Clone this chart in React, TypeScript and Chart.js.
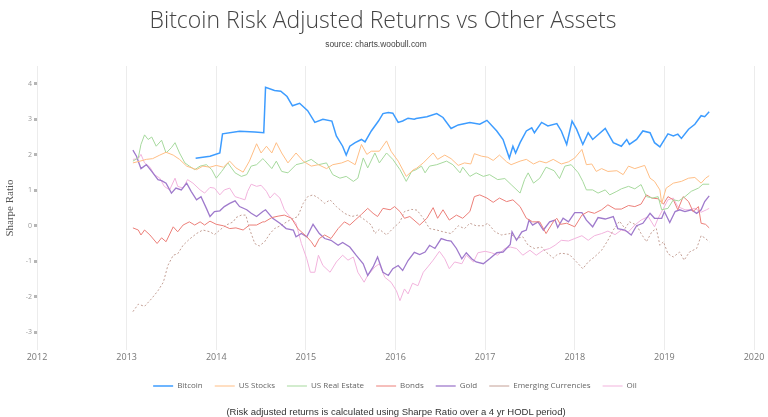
import { useEffect, useRef } from 'react';
import { Chart, registerables } from 'chart.js';

Chart.register(...registerables);

// [decimal year, Sharpe ratio]
const bitcoin: [number, number][] = [
  [2013.77, 1.90], [2013.93, 1.96], [2014.04, 2.05], [2014.07, 2.59], [2014.26, 2.66], [2014.43, 2.64], [2014.53, 2.62],
  [2014.55, 3.90], [2014.65, 3.81], [2014.72, 3.79], [2014.79, 3.64], [2014.85, 3.38], [2014.93, 3.45], [2015.02, 3.24],
  [2015.10, 2.91], [2015.19, 3.00], [2015.29, 2.95], [2015.34, 2.53], [2015.41, 2.24], [2015.45, 1.99], [2015.49, 2.24],
  [2015.55, 2.34], [2015.62, 2.43], [2015.66, 2.36], [2015.73, 2.67], [2015.81, 2.95], [2015.86, 3.16], [2015.92, 3.19],
  [2015.97, 3.17], [2016.03, 2.91], [2016.08, 2.95], [2016.14, 3.03], [2016.21, 3.00], [2016.23, 3.02], [2016.35, 3.07],
  [2016.46, 3.16], [2016.53, 3.05], [2016.62, 2.74], [2016.70, 2.84], [2016.83, 2.91], [2016.94, 2.86], [2017.02, 2.97],
  [2017.13, 2.67], [2017.20, 2.43], [2017.27, 1.91], [2017.31, 2.24], [2017.34, 2.05], [2017.39, 2.34], [2017.46, 2.67],
  [2017.52, 2.76], [2017.55, 2.62], [2017.63, 2.91], [2017.70, 2.81], [2017.80, 2.88], [2017.85, 2.67], [2017.91, 2.29],
  [2017.97, 2.95], [2018.02, 2.72], [2018.09, 2.29], [2018.15, 2.62], [2018.20, 2.43], [2018.34, 2.74], [2018.43, 2.34],
  [2018.52, 2.24], [2018.58, 2.43], [2018.61, 2.29], [2018.69, 2.43], [2018.76, 2.67], [2018.84, 2.62], [2018.89, 2.34],
  [2018.95, 2.22], [2019.04, 2.59], [2019.10, 2.53], [2019.15, 2.58], [2019.19, 2.46], [2019.27, 2.72], [2019.34, 2.86],
  [2019.41, 3.10], [2019.45, 3.07], [2019.50, 3.21],
];

const usStocks: [number, number][] = [
  [2013.07, 1.77], [2013.15, 1.82], [2013.22, 1.87], [2013.29, 1.89], [2013.37, 1.99], [2013.44, 2.07], [2013.52, 1.99],
  [2013.59, 1.87], [2013.67, 1.68], [2013.78, 1.58], [2013.85, 1.68], [2013.93, 1.65], [2014.00, 1.70], [2014.08, 1.65],
  [2014.15, 1.82], [2014.22, 1.63], [2014.30, 1.51], [2014.37, 1.82], [2014.45, 2.31], [2014.50, 2.05], [2014.56, 2.24],
  [2014.62, 2.05], [2014.67, 2.34], [2014.73, 2.05], [2014.80, 1.77], [2014.89, 2.05], [2014.97, 1.82], [2015.06, 1.68],
  [2015.14, 1.72], [2015.23, 1.61], [2015.30, 1.72], [2015.40, 1.77], [2015.47, 1.84], [2015.55, 1.72], [2015.62, 2.29],
  [2015.68, 2.01], [2015.73, 2.10], [2015.82, 2.10], [2015.90, 2.39], [2015.95, 2.10], [2016.03, 1.82], [2016.12, 1.39],
  [2016.20, 1.58], [2016.23, 1.61], [2016.31, 1.77], [2016.42, 2.05], [2016.47, 1.87], [2016.55, 1.99], [2016.62, 1.89],
  [2016.70, 1.70], [2016.77, 1.77], [2016.84, 1.74], [2016.88, 2.03], [2016.96, 1.96], [2017.03, 1.93], [2017.09, 1.84],
  [2017.16, 1.99], [2017.24, 1.80], [2017.29, 1.72], [2017.39, 1.82], [2017.46, 1.87], [2017.54, 1.74], [2017.61, 1.82],
  [2017.68, 1.77], [2017.76, 1.87], [2017.85, 1.74], [2017.93, 1.80], [2018.00, 1.91], [2018.08, 2.15], [2018.13, 1.72],
  [2018.19, 1.74], [2018.24, 1.53], [2018.30, 1.61], [2018.37, 1.53], [2018.47, 1.55], [2018.54, 1.44], [2018.60, 1.68],
  [2018.67, 1.61], [2018.78, 1.70], [2018.84, 1.34], [2018.89, 1.25], [2018.95, 1.01], [2018.97, 0.63], [2019.02, 1.06],
  [2019.10, 1.20], [2019.19, 1.25], [2019.27, 1.34], [2019.34, 1.36], [2019.41, 1.20], [2019.46, 1.34], [2019.50, 1.41],
];

const usRealEstate: [number, number][] = [
  [2013.07, 1.82], [2013.13, 1.91], [2013.16, 2.29], [2013.20, 2.56], [2013.24, 2.43], [2013.28, 2.50], [2013.33, 2.24],
  [2013.39, 2.41], [2013.44, 2.05], [2013.50, 2.20], [2013.54, 2.34], [2013.59, 2.05], [2013.65, 1.77], [2013.70, 1.68],
  [2013.76, 1.58], [2013.82, 1.68], [2013.89, 1.72], [2013.95, 1.58], [2014.00, 1.34], [2014.06, 1.53], [2014.13, 1.77],
  [2014.21, 1.49], [2014.28, 1.39], [2014.34, 1.44], [2014.39, 1.68], [2014.45, 1.72], [2014.52, 1.89], [2014.54, 1.84],
  [2014.62, 1.61], [2014.67, 1.82], [2014.73, 1.53], [2014.80, 1.49], [2014.89, 1.72], [2014.97, 1.77], [2015.06, 1.87],
  [2015.14, 1.72], [2015.23, 1.77], [2015.30, 1.44], [2015.38, 1.34], [2015.45, 1.39], [2015.53, 1.25], [2015.58, 1.34],
  [2015.64, 1.91], [2015.69, 1.63], [2015.77, 2.05], [2015.82, 1.77], [2015.90, 2.05], [2015.97, 1.87], [2016.05, 1.58],
  [2016.12, 1.25], [2016.18, 1.53], [2016.23, 1.58], [2016.29, 1.68], [2016.33, 1.49], [2016.38, 1.68], [2016.46, 1.72],
  [2016.57, 1.82], [2016.64, 1.72], [2016.72, 1.49], [2016.75, 1.65], [2016.83, 1.39], [2016.90, 1.49], [2016.98, 1.39],
  [2017.05, 1.44], [2017.14, 1.30], [2017.22, 1.33], [2017.29, 1.16], [2017.39, 0.92], [2017.44, 1.30], [2017.48, 1.49],
  [2017.54, 1.20], [2017.61, 1.34], [2017.68, 1.65], [2017.77, 1.55], [2017.83, 1.33], [2017.89, 1.68], [2017.96, 1.72],
  [2018.04, 1.49], [2018.09, 1.25], [2018.13, 1.01], [2018.20, 1.01], [2018.26, 0.92], [2018.34, 1.01], [2018.39, 0.87],
  [2018.47, 0.97], [2018.52, 1.04], [2018.60, 1.11], [2018.67, 1.04], [2018.74, 1.16], [2018.80, 0.82], [2018.87, 0.78],
  [2018.93, 0.82], [2018.97, 0.45], [2019.04, 0.49], [2019.10, 0.73], [2019.16, 0.70], [2019.23, 0.82], [2019.30, 0.97],
  [2019.38, 1.06], [2019.43, 1.17], [2019.50, 1.17],
];

const bonds: [number, number][] = [
  [2013.07, -0.06], [2013.13, -0.12], [2013.16, -0.26], [2013.20, -0.12], [2013.26, -0.26], [2013.34, -0.50], [2013.39, -0.34],
  [2013.44, -0.45], [2013.52, -0.03], [2013.57, -0.17], [2013.63, 0.02], [2013.70, 0.11], [2013.76, 0.02], [2013.82, 0.11],
  [2013.87, 0.02], [2013.93, 0.13], [2014.00, 0.04], [2014.08, 0.00], [2014.15, -0.08], [2014.22, -0.06], [2014.30, -0.12],
  [2014.37, 0.02], [2014.45, 0.02], [2014.52, 0.11], [2014.54, 0.11], [2014.62, 0.23], [2014.69, 0.27], [2014.76, 0.30],
  [2014.84, 0.21], [2014.91, -0.08], [2015.01, -0.31], [2015.06, -0.45], [2015.10, -0.60], [2015.15, -0.36], [2015.21, -0.26],
  [2015.28, -0.36], [2015.36, -0.08], [2015.43, 0.11], [2015.49, 0.02], [2015.55, 0.16], [2015.62, 0.32], [2015.69, 0.49],
  [2015.75, 0.35], [2015.80, 0.26], [2015.86, 0.49], [2015.94, 0.45], [2015.99, 0.54], [2016.05, 0.40], [2016.10, 0.21],
  [2016.16, 0.26], [2016.27, 0.02], [2016.35, 0.21], [2016.42, 0.51], [2016.47, 0.21], [2016.53, 0.45], [2016.60, 0.16],
  [2016.68, 0.30], [2016.75, 0.21], [2016.83, 0.40], [2016.88, 0.82], [2016.94, 0.87], [2017.02, 0.78], [2017.09, 0.66],
  [2017.16, 0.78], [2017.24, 0.68], [2017.31, 0.73], [2017.39, 0.54], [2017.46, 0.21], [2017.53, 0.11], [2017.61, 0.11],
  [2017.68, -0.22], [2017.76, 0.11], [2017.80, 0.21], [2017.84, 0.04], [2017.91, 0.07], [2018.00, -0.03], [2018.08, 0.30],
  [2018.15, 0.40], [2018.22, 0.35], [2018.30, 0.45], [2018.37, 0.59], [2018.45, 0.47], [2018.52, 0.47], [2018.60, 0.57],
  [2018.67, 0.54], [2018.74, 0.61], [2018.80, 0.87], [2018.86, 0.78], [2018.93, 0.76], [2018.99, 0.61], [2019.04, 0.82],
  [2019.10, 0.73], [2019.15, 0.45], [2019.21, 0.82], [2019.27, 0.68], [2019.32, 0.40], [2019.38, 0.54], [2019.41, 0.07],
  [2019.46, 0.04], [2019.50, -0.06],
];

const gold: [number, number][] = [
  [2013.07, 2.13], [2013.11, 1.96], [2013.16, 1.61], [2013.22, 1.72], [2013.28, 1.53], [2013.35, 1.30], [2013.39, 1.27],
  [2013.44, 1.20], [2013.50, 0.92], [2013.55, 1.06], [2013.61, 1.01], [2013.67, 1.20], [2013.72, 0.97], [2013.78, 0.73],
  [2013.83, 0.82], [2013.89, 0.49], [2013.93, 0.26], [2013.98, 0.40], [2014.04, 0.42], [2014.09, 0.54], [2014.15, 0.63],
  [2014.21, 0.70], [2014.26, 0.54], [2014.34, 0.45], [2014.39, 0.35], [2014.45, 0.26], [2014.52, 0.40], [2014.55, 0.45],
  [2014.63, 0.21], [2014.71, 0.07], [2014.78, -0.08], [2014.86, -0.12], [2014.89, -0.31], [2014.95, -0.22], [2015.01, -0.31],
  [2015.08, 0.04], [2015.15, -0.22], [2015.21, -0.36], [2015.28, -0.41], [2015.36, -0.55], [2015.41, -0.47], [2015.49, -0.60],
  [2015.56, -0.83], [2015.64, -1.07], [2015.69, -1.40], [2015.75, -1.16], [2015.80, -0.88], [2015.86, -1.31], [2015.92, -1.40],
  [2015.97, -1.21], [2016.03, -1.12], [2016.08, -1.26], [2016.14, -0.98], [2016.21, -0.75], [2016.27, -0.81], [2016.33, -0.74],
  [2016.38, -0.55], [2016.44, -0.64], [2016.51, -0.36], [2016.57, -0.41], [2016.62, -0.43], [2016.68, -0.64], [2016.74, -0.93],
  [2016.79, -0.76], [2016.85, -0.93], [2016.90, -1.02], [2016.98, -1.07], [2017.05, -0.93], [2017.13, -0.76], [2017.20, -0.74],
  [2017.28, -0.53], [2017.30, -0.17], [2017.35, -0.41], [2017.41, -0.17], [2017.46, -0.12], [2017.49, 0.16], [2017.53, 0.02],
  [2017.59, 0.11], [2017.65, -0.12], [2017.72, 0.11], [2017.78, 0.16], [2017.81, -0.05], [2017.87, 0.21], [2017.93, 0.11],
  [2018.00, 0.37], [2018.08, 0.37], [2018.13, 0.16], [2018.20, -0.03], [2018.26, 0.23], [2018.34, 0.19], [2018.43, 0.26],
  [2018.48, -0.08], [2018.56, -0.12], [2018.63, -0.26], [2018.69, 0.00], [2018.76, 0.07], [2018.84, 0.35], [2018.89, 0.21],
  [2018.97, 0.21], [2019.00, 0.40], [2019.06, 0.09], [2019.12, 0.40], [2019.17, 0.45], [2019.23, 0.40], [2019.30, 0.45],
  [2019.36, 0.35], [2019.41, 0.45], [2019.45, 0.68], [2019.50, 0.84],
];

const emergingCurrencies: [number, number][] = [
  [2013.07, -2.42], [2013.13, -2.21], [2013.20, -2.27], [2013.28, -2.05], [2013.35, -1.83], [2013.41, -1.59], [2013.46, -1.12],
  [2013.52, -0.83], [2013.57, -0.79], [2013.63, -0.55], [2013.70, -0.38], [2013.78, -0.22], [2013.85, -0.12], [2013.93, -0.17],
  [2013.98, -0.25], [2014.04, -0.12], [2014.11, 0.02], [2014.19, 0.11], [2014.22, 0.23], [2014.28, 0.30], [2014.33, 0.30],
  [2014.37, -0.08], [2014.43, -0.50], [2014.48, -0.57], [2014.54, -0.45], [2014.60, -0.22], [2014.65, -0.08], [2014.73, 0.02],
  [2014.82, 0.16], [2014.91, 0.26], [2014.97, 0.63], [2015.02, 0.82], [2015.08, 0.87], [2015.14, 0.78], [2015.21, 0.63],
  [2015.27, 0.73], [2015.34, 0.54], [2015.43, 0.35], [2015.51, 0.26], [2015.58, 0.30], [2015.66, 0.16], [2015.73, 0.02],
  [2015.77, -0.22], [2015.82, -0.10], [2015.90, -0.26], [2015.97, -0.08], [2016.05, 0.11], [2016.10, 0.40], [2016.18, 0.46],
  [2016.24, 0.44], [2016.31, 0.21], [2016.38, -0.08], [2016.46, -0.12], [2016.53, -0.17], [2016.62, -0.22], [2016.70, 0.00],
  [2016.77, -0.08], [2016.83, 0.07], [2016.90, 0.00], [2016.98, 0.00], [2017.03, 0.07], [2017.11, -0.17], [2017.18, -0.26],
  [2017.28, -0.22], [2017.35, -0.36], [2017.42, -0.31], [2017.48, -0.55], [2017.55, -0.64], [2017.63, -0.60], [2017.68, -0.74],
  [2017.76, -0.91], [2017.80, -0.82], [2017.85, -0.77], [2017.94, -0.81], [2018.02, -1.02], [2018.09, -1.21], [2018.15, -1.02],
  [2018.22, -0.88], [2018.30, -0.69], [2018.37, -0.41], [2018.43, -0.12], [2018.50, 0.13], [2018.56, -0.08], [2018.61, 0.11],
  [2018.69, 0.02], [2018.74, -0.22], [2018.80, -0.45], [2018.86, -0.17], [2018.91, -0.08], [2018.95, -0.55], [2018.99, -0.45],
  [2019.04, -0.79], [2019.10, -0.88], [2019.17, -0.74], [2019.22, -0.97], [2019.28, -0.74], [2019.36, -0.64], [2019.41, -0.28],
  [2019.45, -0.34], [2019.50, -0.45],
];

const oil: [number, number][] = [
  [2013.07, 1.87], [2013.13, 1.89], [2013.16, 2.01], [2013.20, 1.77], [2013.26, 1.65], [2013.31, 1.44], [2013.37, 1.34],
  [2013.42, 1.11], [2013.48, 1.01], [2013.54, 1.34], [2013.57, 1.11], [2013.63, 1.06], [2013.68, 1.30], [2013.74, 1.20],
  [2013.82, 1.01], [2013.87, 0.92], [2013.93, 1.08], [2013.98, 1.06], [2014.04, 0.87], [2014.09, 1.01], [2014.15, 1.06],
  [2014.21, 0.82], [2014.26, 0.78], [2014.32, 0.73], [2014.35, 0.97], [2014.39, 1.17], [2014.45, 1.11], [2014.50, 1.14],
  [2014.56, 0.97], [2014.60, 0.78], [2014.65, 0.92], [2014.71, 0.78], [2014.76, 0.45], [2014.82, 0.26], [2014.89, 0.07],
  [2014.95, -0.50], [2015.01, -0.93], [2015.05, -1.31], [2015.10, -1.31], [2015.14, -0.83], [2015.19, -1.12], [2015.27, -1.31],
  [2015.34, -1.02], [2015.41, -0.83], [2015.47, -0.97], [2015.53, -0.88], [2015.58, -1.31], [2015.65, -1.59], [2015.69, -1.40],
  [2015.77, -1.16], [2015.82, -1.07], [2015.88, -1.45], [2015.95, -1.59], [2016.01, -1.83], [2016.05, -2.11], [2016.10, -1.78],
  [2016.14, -1.92], [2016.19, -1.62], [2016.25, -1.69], [2016.31, -1.31], [2016.36, -1.16], [2016.42, -0.97], [2016.49, -0.72],
  [2016.55, -0.93], [2016.60, -1.21], [2016.66, -1.02], [2016.74, -1.07], [2016.79, -0.83], [2016.87, -1.02], [2016.92, -0.76],
  [2017.00, -0.72], [2017.07, -0.76], [2017.14, -0.83], [2017.22, -0.64], [2017.28, -0.60], [2017.35, -0.64], [2017.42, -0.83],
  [2017.50, -0.69], [2017.57, -0.83], [2017.65, -0.69], [2017.72, -0.64], [2017.78, -0.55], [2017.85, -0.41], [2017.93, -0.43],
  [2018.00, -0.36], [2018.08, -0.28], [2018.15, -0.41], [2018.22, -0.28], [2018.30, -0.22], [2018.37, -0.15], [2018.45, -0.25],
  [2018.52, -0.12], [2018.60, -0.17], [2018.67, 0.02], [2018.74, 0.16], [2018.82, 0.26], [2018.89, -0.03], [2018.93, 0.21],
  [2018.99, 0.49], [2019.04, 0.73], [2019.10, 0.78], [2019.15, 0.54], [2019.23, 0.45], [2019.28, 0.45], [2019.34, 0.49],
  [2019.41, 0.38], [2019.47, 0.45], [2019.50, 0.49],
];

const seriesNames = ['Bitcoin', 'US Stocks', 'US Real Estate', 'Bonds', 'Gold', 'Emerging Currencies', 'Oil'];
const seriesData = [bitcoin, usStocks, usRealEstate, bonds, gold, emergingCurrencies, oil];
const seriesColors = ['#3d9cff', '#ffbe85', '#a6d99d', '#ec7f79', '#9f7acc', '#c4a096', '#f2b3dd'];
const seriesWidths = [1.5, 1, 1, 1, 1.3, 1, 1];

const xMin = 2012;
const xMax = 2020;
const yMin = -3.5;
const yMax = 4.5;
const yTickValues = [-3, -2, -1, 0, 1, 2, 3, 4];

const TITLE = 'Bitcoin Risk Adjusted Returns vs Other Assets';
const SUBTITLE = 'source: charts.woobull.com';
const FOOTER = '(Risk adjusted returns is calculated using Sharpe Ratio over a 4 yr HODL period)';
const Y_TITLE = 'Sharpe Ratio';

const legendShift = {
  id: 'legendShift',
  afterLayout(chart: any) {
    const lg = chart.legend;
    if (lg) { lg.left += 18; lg.right += 18; }
  },
};

export default function App() {
  const canvasRef = useRef<HTMLCanvasElement>(null);

  useEffect(() => {
    document.body.style.margin = '0';
    const canvas = canvasRef.current;
    if (!canvas) return;
    const chart = new Chart(canvas, {
      type: 'line',
      data: {
        datasets: seriesNames.map((name, i) => ({
          label: name,
          data: seriesData[i].map(([x, y]) => ({ x, y })),
          borderColor: seriesColors[i],
          backgroundColor: seriesColors[i],
          borderWidth: seriesWidths[i],
          borderDash: name === 'Emerging Currencies' ? [2, 2] : [],
          pointRadius: 0,
          tension: 0,
          fill: false,
        })),
      },
      options: {
        animation: false,
        responsive: false,
        maintainAspectRatio: false,
        layout: { padding: { top: 66, left: 0, right: 14, bottom: 17 } },
        plugins: {
          tooltip: { enabled: false },
          title: { display: false },
          legend: {
            position: 'bottom',
            labels: {
              usePointStyle: true,
              pointStyle: 'line',
              pointStyleWidth: 20,
              padding: 12,
              color: '#666',
              font: { family: '"Open Sans", sans-serif', size: 8 },
            },
          },
        },
        scales: {
          x: {
            type: 'linear',
            min: xMin,
            max: xMax,
            afterFit: (s: any) => { s.height = 20; },
            ticks: {
              stepSize: 1,
              includeBounds: false,
              padding: 2,
              color: '#777',
              font: { family: '"Open Sans", sans-serif', size: 9 },
              callback: (v: any) => String(v),
            },
            grid: { color: '#ececec', lineWidth: 1, drawTicks: false },
            border: { display: false },
          },
          y: {
            type: 'linear',
            min: yMin,
            max: yMax,
            afterFit: (s: any) => { s.width = 37; },
            afterBuildTicks: (s: any) => { s.ticks = yTickValues.map((v) => ({ value: v })); },
            ticks: {
              includeBounds: false,
              padding: 2,
              color: '#999',
              font: { family: '"Open Sans", sans-serif', size: 7 },
              callback: (v: any) => String(v),
            },
            title: {
              display: true,
              text: Y_TITLE,
              color: '#555',
              padding: { top: 4, bottom: 0 },
              font: { family: '"Liberation Serif", "Times New Roman", serif', size: 11, weight: 'normal' },
            },
            grid: { drawOnChartArea: false, drawTicks: true, tickLength: 3, tickWidth: 3, tickColor: '#b5b5b5' },
            border: { display: false },
          },
        },
      },
      plugins: [legendShift],
    });
    return () => chart.destroy();
  }, []);

  return (
    <div style={{ position: 'relative', width: 768, height: 417, background: '#fff', overflow: 'hidden' }}>
      <canvas ref={canvasRef} width={768} height={417} style={{ position: 'absolute', left: 0, top: 0 }} />
      <div style={{ position: 'absolute', left: 383, top: 8, transform: 'translateX(-50%)', whiteSpace: 'nowrap',
        fontFamily: '"Open Sans", sans-serif', fontWeight: 300, fontSize: 23, lineHeight: '23px', color: '#444' }}>{TITLE}</div>
      <div style={{ position: 'absolute', left: 376, top: 40, transform: 'translateX(-50%)', whiteSpace: 'nowrap',
        fontFamily: '"Liberation Sans", Arial, sans-serif', fontSize: 8.4, lineHeight: '8px', color: '#444' }}>{SUBTITLE}</div>
      <div style={{ position: 'absolute', left: 396, top: 407, transform: 'translateX(-50%)', whiteSpace: 'nowrap',
        fontFamily: '"Liberation Sans", Arial, sans-serif', fontSize: 9.5, lineHeight: '10px', color: '#333' }}>{FOOTER}</div>
    </div>
  );
}
